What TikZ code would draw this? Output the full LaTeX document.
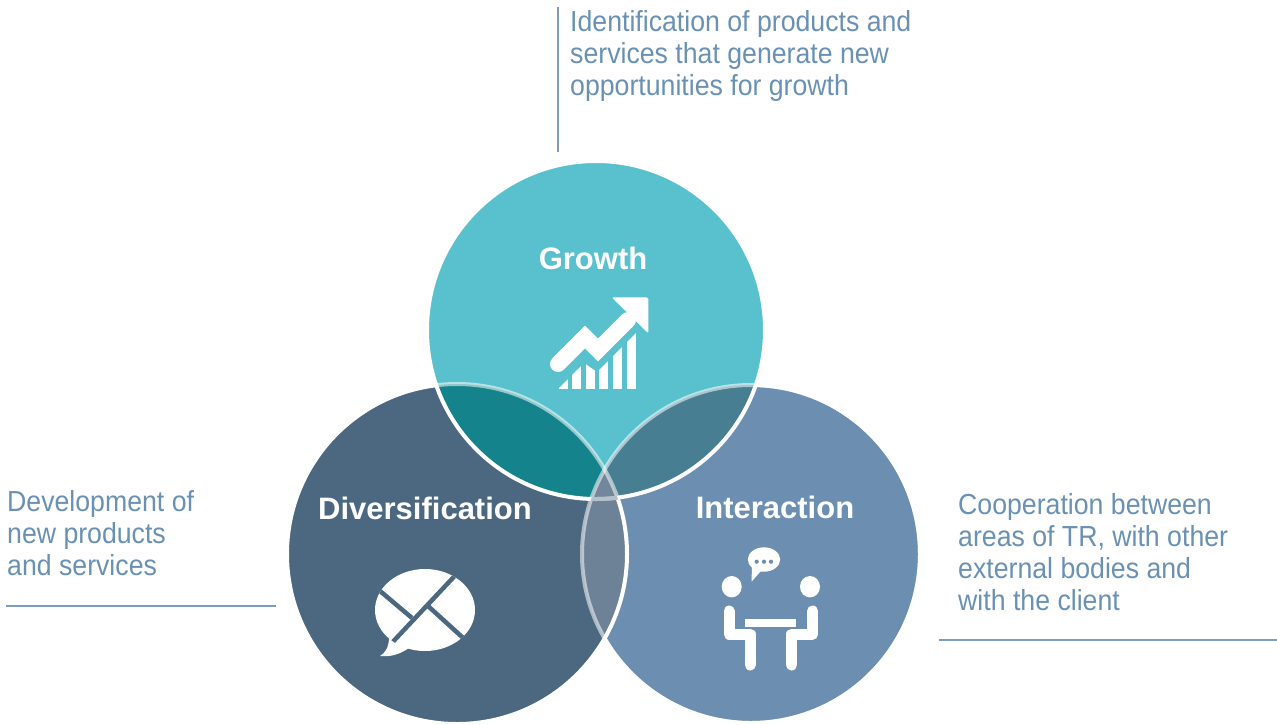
\documentclass[tikz,border=0pt]{standalone}
\usepackage{fontspec}
\setmainfont{Liberation Sans}
\newfontfamily\notefont{Liberation Sans}[FakeStretch=0.92]
\usepackage{tikz}
\definecolor{growth}{HTML}{59C1CD}
\definecolor{divers}{HTML}{4B6880}
\definecolor{inter}{HTML}{6C8FB1}
\definecolor{growthdiv}{HTML}{14838B}
\definecolor{growthint}{HTML}{477E91}
\definecolor{divint}{HTML}{6E8297}
\definecolor{allthree}{HTML}{72879B}
\definecolor{notecol}{HTML}{6A91B5}
\definecolor{rulecol}{HTML}{7E9DBC}
\tikzset{
  rim/.style={draw=white, line width=4pt},
  softrim/.style={draw=white, draw opacity=0.55, line width=4pt},
  headtext/.style={text=white, font=\fontsize{31}{36}\selectfont\bfseries, inner sep=0pt},
  notetext/.style={text=notecol, font=\notefont\fontsize{29}{32}\selectfont, align=left, inner sep=0pt},
  ruleline/.style={draw=rulecol, line width=1.4pt},
  iconfill/.style={fill=white},
}

\begin{document}
\begin{tikzpicture}[x=1pt,y=-1pt]
  \useasboundingbox (0,0) rectangle (1277,724);
  \coordinate (G) at (596,330);   % growth centre
  \coordinate (D) at (457,554);   % diversification centre
  \coordinate (I) at (751,554);   % interaction centre

  % interaction
  \fill[inter] (I) circle (169);
  \draw[rim] (I) circle (169);
  % diversification
  \fill[divers] (D) circle (170);
  \begin{scope}
    \clip (D) circle (170);
    \fill[divint] (I) circle (169);
  \end{scope}
  \draw[softrim] (I) circle (169);
  \draw[rim] (D) circle (170);
  % growth
  \fill[growth] (G) circle (169);
  \begin{scope}
    \clip (G) circle (169);
    \fill[growthdiv] (D) circle (170);
    \fill[growthint] (I) circle (169);
    \clip (D) circle (170);
    \fill[allthree] (I) circle (169);
  \end{scope}
  \begin{scope}
    \clip (G) circle (169);
    \draw[softrim] (D) circle (170);
    \draw[softrim] (I) circle (169);
  \end{scope}
  \draw[rim] (G) circle (169);
  \begin{scope}
    \clip (D) circle (170);
    \clip (I) circle (169);
    \draw[draw=divint, draw opacity=0.5, line width=4pt] (G) circle (169);
  \end{scope}

  \node[headtext, anchor=base] (growthlbl) at (593,269) {Growth};
  \node[headtext, anchor=base] (diverslbl) at (425,519) {Diversification};
  \node[headtext, anchor=base] (interlbl) at (775,518) {Interaction};

  % growth icon
  \draw[white, line width=16pt, line cap=round, line join=miter]
    (558,364) -- (585,337) -- (598,350) -- (628,320);
  \fill[iconfill, rounded corners=1.5pt] (611.7,297.3) -- (648.3,297.3) -- (648.3,333.3) -- cycle;
  \begin{scope}
    \clip (552,395) -- (584,363) -- (597,372) -- (650,319) -- (650,395) -- cycle;
    \foreach \i in {0,...,5}
      \fill[iconfill] (558.5+13.6*\i,389.3) rectangle ++(9,-70);
  \end{scope}

  % diversification icon
  \fill[iconfill] (389,637) .. controls (389,648) and (385,653) .. (380,656)
    .. controls (392,657) and (400,654) .. (409,648) -- (400,640) -- cycle;
  \fill[iconfill] (425,610) ellipse (50 and 41);
  \begin{scope}
    \clip (425,610) ellipse (50 and 41);
    \draw[divers, line width=4.5pt] (465,565) -- (388,647);
    \draw[divers, line width=4.5pt] (370,582.5) -- (412,618);
    \draw[divers, line width=4.5pt] (428,606) -- (472,646);
  \end{scope}

  % interaction icon
  \fill[iconfill] (764,559.5) ellipse (16.2 and 12.2);
  \fill[iconfill] (752,566) -- (751.5,581.7) -- (761,571) -- cycle;
  \foreach \dx in {756.7,764,771}
    \fill[inter] (\dx,561.7) circle (2.1);
  \fill[iconfill] (731.7,586.7) ellipse (10 and 10.7);
  \fill[iconfill] (810,586.7) ellipse (10 and 10.7);
  \draw[white, line width=11pt, line cap=round, line join=round]
    (729,611) -- (729,634) -- (750,634) -- (750,665);
  \draw[white, line width=11pt, line cap=round, line join=round]
    (812.6,611) -- (812.6,634) -- (791.6,634) -- (791.6,665);
  \fill[iconfill] (745,619) rectangle (796,627.3);

  % notes (anchored on the last line)
  \node[notetext, anchor=base west] (growthnote) at (570,95)
    {Identification of products and\\services that generate new\\opportunities for growth};
  \node[notetext, anchor=base west] (diversnote) at (7,575)
    {Development of\\new products\\and services};
  \node[notetext, anchor=base west] (internote) at (958,610)
    {Cooperation between\\areas of TR, with other\\external bodies and\\with the client};

  \coordinate (gtop) at (558,7);
  \coordinate (gbot) at (558,152);
  \coordinate (dleft) at (6,606);
  \coordinate (dright) at (276,606);
  \coordinate (ileft) at (939,640);
  \coordinate (iright) at (1277,640);
  \draw[ruleline] (gtop) -- (gbot);
  \draw[ruleline] (dleft) -- (dright);
  \draw[ruleline] (ileft) -- (iright);
\end{tikzpicture}
\end{document}
